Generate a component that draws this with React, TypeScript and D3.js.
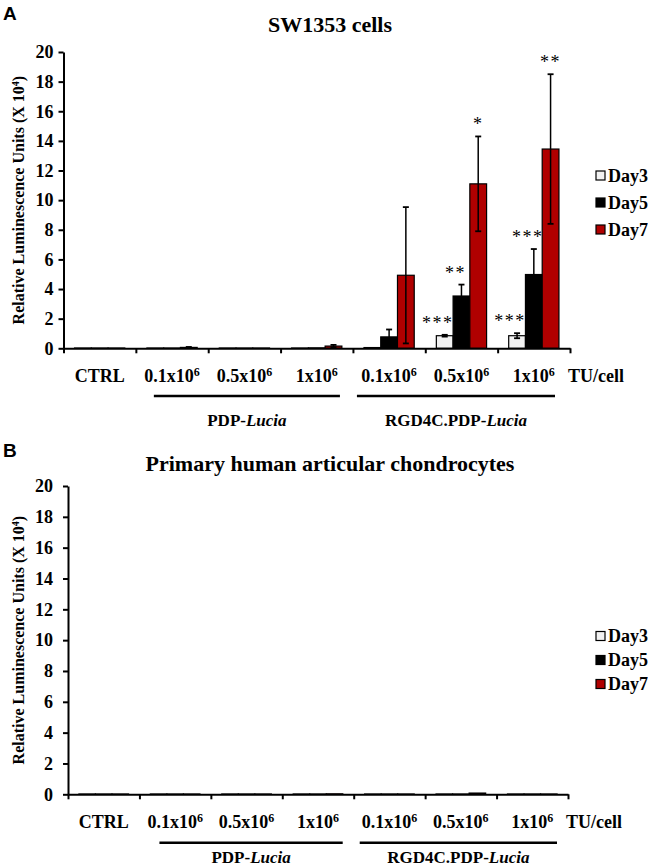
import { useEffect, useRef } from 'react';
import * as d3 from 'd3';

// categories along the x axis
const CATEGORY_BASE = ['CTRL', '0.1x10', '0.5x10', '1x10', '0.1x10', '0.5x10', '1x10'];
const CATEGORY_EXP = ['', '6', '6', '6', '6', '6', '6'];
const SERIES = ['Day3', 'Day5', 'Day7'];
const SERIES_COLORS = ['#f2f2f2', '#000000', '#b00000'];
const Y_TICKS = [0, 2, 4, 6, 8, 10, 12, 14, 16, 18, 20];

// vector groups under the categories
const GROUP_PREFIX = ['PDP-', 'RGD4C.PDP-'];
const GROUP_ITALIC = ['Lucia', 'Lucia'];
const GROUP_FIRST = [1, 4];
const GROUP_LAST = [3, 6];

// A: SW1353 cells (RLU x 10^4)
const swDay3 = [0.02, 0.02, 0.02, 0.02, 0.05, 0.85, 0.85];
const swDay5 = [0.02, 0.02, 0.02, 0.03, 0.77, 3.53, 4.98];
const swDay7 = [0.02, 0.06, 0.02, 0.15, 4.93, 11.1, 13.45];
const swErr3 = [0, 0, 0, 0, 0, 0.06, 0.17];
const swErr5 = [0, 0, 0, 0, 0.5, 0.77, 1.72];
const swErr7 = [0, 0.03, 0, 0.08, 4.6, 3.2, 5.05];
const swSig3 = ['', '', '', '', '', '***', '***'];
const swSig5 = ['', '', '', '', '', '**', '***'];
const swSig7 = ['', '', '', '', '', '*', '**'];

// B: primary human articular chondrocytes
const chDay3 = [0.02, 0.02, 0.02, 0.02, 0.02, 0.02, 0.02];
const chDay5 = [0.02, 0.02, 0.02, 0.02, 0.02, 0.02, 0.02];
const chDay7 = [0.02, 0.02, 0.02, 0.03, 0.02, 0.08, 0.02];
const chErr = [0, 0, 0, 0, 0, 0, 0];
const noSig = ['', '', '', '', '', '', ''];

const SERIF = '"Liberation Serif", "Times New Roman", serif';
const SANS = '"Liberation Sans", Arial, sans-serif';

const PANELS = [
  {
    letter: 'A', letterY: 20, title: 'SW1353 cells', titleY: 31.5,
    x0: 63.5, x1: 570, yTop: 52, yBot: 348.3,
    catY: 381.7, lineY: 396, groupY: 426, legendY: [175.5, 202.5, 229.5],
    lineInset: [[18, 13], [4, 15]], tickPad: 5,
    values: [swDay3, swDay5, swDay7], errors: [swErr3, swErr5, swErr7], sig: [swSig3, swSig5, swSig7],
  },
  {
    letter: 'B', letterY: 457, title: 'Primary human articular chondrocytes', titleY: 471,
    x0: 68, x1: 568, yTop: 486, yBot: 794.3,
    catY: 828, lineY: 842.7, groupY: 863, legendY: [636, 660, 684],
    lineInset: [[20, 11], [6, 11]], tickPad: 10,
    values: [chDay3, chDay5, chDay7], errors: [chErr, chErr, chErr], sig: [noSig, noSig, noSig],
  },
];

const SIG_DX = [-7, -6, 0];

export default function App() {
  const svgRef = useRef<SVGSVGElement>(null);

  useEffect(() => {
    if (!svgRef.current) return;
    const svg = d3.select(svgRef.current);
    svg.selectAll('*').remove();

    PANELS.forEach(p => {
      const g = svg.append('g');

      const y = d3.scaleLinear().domain([0, 20]).range([p.yBot, p.yTop]);
      const xGroup = d3.scaleBand<number>().domain(d3.range(7)).range([p.x0, p.x1]).padding(0);
      const xSeries = d3.scaleBand<string>()
        .domain(SERIES)
        .range([0, xGroup.bandwidth()])
        .paddingInner(0)
        .paddingOuter(0.66);
      const xTicks = d3.scaleLinear().domain([0, 7]).range([p.x0, p.x1]);

      // Panel letter + title
      g.append('text')
        .attr('x', 3).attr('y', p.letterY)
        .attr('font-family', SANS).attr('font-weight', 'bold').attr('font-size', 19)
        .text(p.letter);
      g.append('text')
        .attr('x', 330).attr('y', p.titleY)
        .attr('text-anchor', 'middle')
        .attr('font-family', SERIF).attr('font-weight', 'bold').attr('font-size', 22)
        .text(p.title);

      // Bars
      SERIES.forEach((s, si) => {
        p.values[si].forEach((v, i) => {
          const bx = xGroup(i)! + xSeries(s)!;
          g.append('rect')
            .attr('x', bx)
            .attr('y', y(v))
            .attr('width', xSeries.bandwidth())
            .attr('height', y(0) - y(v))
            .attr('fill', SERIES_COLORS[si])
            .attr('stroke', '#000')
            .attr('stroke-width', 1.2);
        });
      });

      // Error bars + significance
      SERIES.forEach((s, si) => {
        p.values[si].forEach((v, i) => {
          const e = p.errors[si][i];
          const cx = xGroup(i)! + xSeries(s)! + xSeries.bandwidth() / 2;
          if (e > 0) {
            const top = y(v + e);
            const bot = y(Math.max(0, v - e));
            g.append('line')
              .attr('x1', cx).attr('x2', cx).attr('y1', top).attr('y2', bot)
              .attr('stroke', '#000').attr('stroke-width', 1.5);
            [top, bot].forEach(cy => {
              g.append('line')
                .attr('x1', cx - 3).attr('x2', cx + 3).attr('y1', cy).attr('y2', cy)
                .attr('stroke', '#000').attr('stroke-width', 1.8);
            });
          }
          const label = p.sig[si][i];
          if (label) {
            g.append('text')
              .attr('x', cx + SIG_DX[si])
              .attr('y', y(v + e) - 6)
              .attr('text-anchor', 'middle')
              .attr('font-family', SERIF).attr('font-size', 18)
              .attr('letter-spacing', 1.5)
              .attr('fill', '#000')
              .text(label);
          }
        });
      });

      // Y axis
      const yAxis = g.append('g')
        .attr('transform', `translate(${p.x0},0)`)
        .call(d3.axisLeft(y).tickValues(Y_TICKS).tickSize(5).tickSizeOuter(0).tickPadding(p.tickPad));
      yAxis.selectAll('path, line').attr('stroke', '#000').attr('stroke-width', 2);
      yAxis.selectAll('text')
        .attr('font-family', SERIF).attr('font-weight', 'bold').attr('font-size', 18)
        .attr('fill', '#000');

      // X axis (ticks at group boundaries)
      const xAxis = g.append('g')
        .attr('transform', `translate(0,${p.yBot})`)
        .call(d3.axisBottom(xTicks).tickValues(d3.range(8)).tickSize(5).tickSizeOuter(0).tickFormat(() => ''));
      xAxis.selectAll('path, line').attr('stroke', '#000').attr('stroke-width', 2);

      // Y axis label
      const yl = g.append('text')
        .attr('transform', `translate(24,${(p.yTop + p.yBot) / 2}) rotate(-90)`)
        .attr('text-anchor', 'middle')
        .attr('font-family', SERIF).attr('font-weight', 'bold').attr('font-size', 16);
      yl.append('tspan').text('Relative Luminescence Units (X 10');
      yl.append('tspan').attr('dy', -5).attr('font-size', 10).text('4');
      yl.append('tspan').attr('dy', 5).text(')');

      // Category labels
      CATEGORY_BASE.forEach((c, i) => {
        const t = g.append('text')
          .attr('x', xGroup(i)! + xGroup.bandwidth() / 2)
          .attr('y', p.catY)
          .attr('text-anchor', 'middle')
          .attr('font-family', SERIF).attr('font-weight', 'bold').attr('font-size', 18);
        t.append('tspan').text(c);
        if (CATEGORY_EXP[i]) t.append('tspan').attr('dy', -6).attr('font-size', 12).text(CATEGORY_EXP[i]);
      });
      g.append('text')
        .attr('x', p.x1 - 2).attr('y', p.catY)
        .attr('font-family', SERIF).attr('font-weight', 'bold').attr('font-size', 18)
        .text('TU/cell');

      // Group brackets
      GROUP_PREFIX.forEach((pre, gi) => {
        const lx0 = xGroup(GROUP_FIRST[gi])! + p.lineInset[gi][0];
        const lx1 = xGroup(GROUP_LAST[gi])! + xGroup.bandwidth() - p.lineInset[gi][1];
        g.append('line')
          .attr('x1', lx0).attr('x2', lx1).attr('y1', p.lineY).attr('y2', p.lineY)
          .attr('stroke', '#000').attr('stroke-width', 2.5);
        const t = g.append('text')
          .attr('x', (lx0 + lx1) / 2).attr('y', p.groupY)
          .attr('text-anchor', 'middle')
          .attr('font-family', SERIF).attr('font-weight', 'bold').attr('font-size', 17);
        t.append('tspan').text(pre);
        t.append('tspan').attr('font-style', 'italic').text(GROUP_ITALIC[gi]);
      });

      // Legend
      SERIES.forEach((s, si) => {
        const ly = p.legendY[si];
        g.append('rect')
          .attr('x', 596).attr('y', ly - 4.5).attr('width', 9).attr('height', 9)
          .attr('fill', SERIES_COLORS[si]).attr('stroke', '#000').attr('stroke-width', 1.2);
        g.append('text')
          .attr('x', 608).attr('y', ly + 6)
          .attr('font-family', SERIF).attr('font-weight', 'bold').attr('font-size', 18)
          .text(s);
      });
    });
  }, []);

  return (
    <svg
      ref={svgRef}
      width={648}
      height={867}
      style={{ position: 'absolute', left: 0, top: 0, background: '#fff' }}
    />
  );
}
